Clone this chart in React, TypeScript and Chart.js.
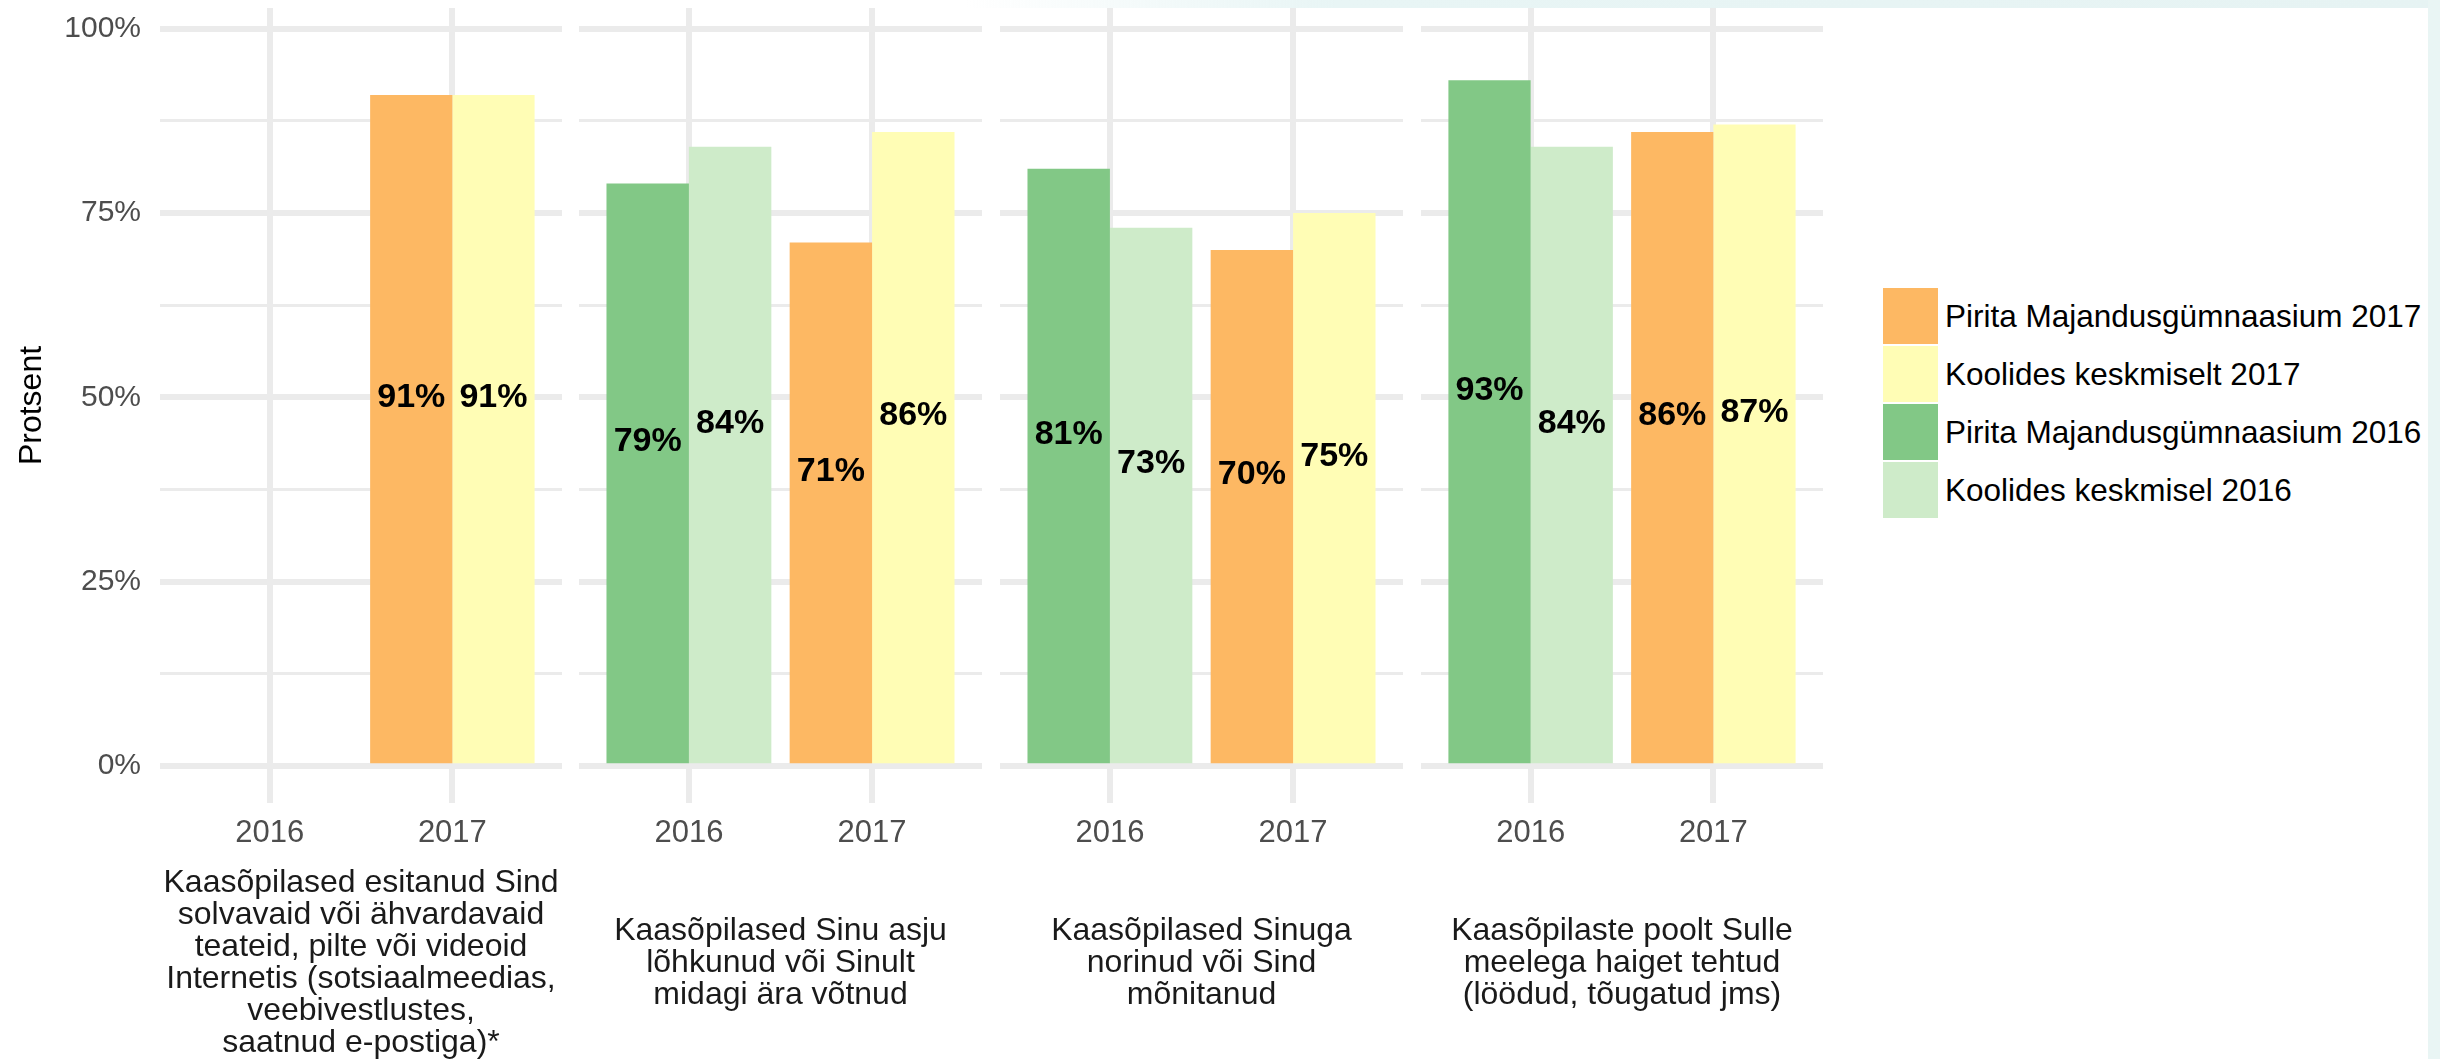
import React, { useEffect, useRef } from 'react';
import { Chart, registerables } from 'chart.js';

Chart.register(...registerables);

// ---------- data ----------
const years = [2016, 2017];
const facetLabels: string[][] = [
  ['Kaasõpilased esitanud Sind', 'solvavaid või ähvardavaid', 'teateid, pilte või videoid', 'Internetis (sotsiaalmeedias,', 'veebivestlustes,', 'saatnud e-postiga)*'],
  ['Kaasõpilased Sinu asju', 'lõhkunud või Sinult', 'midagi ära võtnud'],
  ['Kaasõpilased Sinuga', 'norinud või Sind', 'mõnitanud'],
  ['Kaasõpilaste poolt Sulle', 'meelega haiget tehtud', '(löödud, tõugatud jms)'],
];
const pirita2016: (number | null)[] = [null, 79, 81, 93];
const avg2016: (number | null)[] = [null, 84, 73, 84];
const pirita2017: (number | null)[] = [91, 71, 70, 86];
const avg2017: (number | null)[] = [91, 86, 75, 87];
const yMajorTicks = [0, 25, 50, 75, 100];
const yMinorTicks = [12.5, 37.5, 62.5, 87.5];
const legendLabels = [
  'Pirita Majandusgümnaasium 2017',
  'Koolides keskmiselt 2017',
  'Pirita Majandusgümnaasium 2016',
  'Koolides keskmisel 2016',
];

// ---------- styles ----------
const FONT = '"Liberation Sans", Arial, Helvetica, sans-serif';
const C_ORANGE = '#FDB863';
const C_YELLOW = '#FFFDB5';
const C_GREEN = '#82C886';
const C_LGREEN = '#CEEBC9';
const legendColors = [C_ORANGE, C_YELLOW, C_GREEN, C_LGREEN];
const GRID = '#EBEBEB';
const H = 1059;
const PANEL_TOP = 8;
const PANEL_BOTTOM = 803;
const panelLeft = [160, 579, 1000, 1421];
const panelRight = [562, 982, 1403, 1823];
const FACET_CENTER = 963;
const FACET_LH = 32;
const FACET_FS = 32;

Chart.defaults.font.family = FONT;

const valueLabels = {
  id: 'valueLabels',
  afterDatasetsDraw(chart: any) {
    const ctx = chart.ctx;
    const ys = chart.scales.y;
    ctx.save();
    ctx.font = `bold 34px ${FONT}`;
    ctx.fillStyle = '#000';
    ctx.textAlign = 'center';
    ctx.textBaseline = 'middle';
    chart.data.datasets.forEach((ds: any, di: number) => {
      const meta = chart.getDatasetMeta(di);
      meta.data.forEach((bar: any, i: number) => {
        const v = ds.data[i];
        if (v == null) return;
        ctx.fillText(`${v}%`, bar.x, ys.getPixelForValue(v / 2) - 33);
      });
    });
    ctx.restore();
  },
};

function Panel({ index }: { index: number }) {
  const ref = useRef<HTMLCanvasElement>(null);
  const yAxisWidth = index === 0 ? panelLeft[0] : 0;
  const canvasLeft = panelLeft[index] - yAxisWidth;
  const width = panelRight[index] - canvasLeft;
  const lines = facetLabels[index];
  const lastCenter = FACET_CENTER + ((lines.length - 1) / 2) * FACET_LH;
  const titlePadBottom = Math.max(0, H - FACET_LH / 2 - lastCenter);

  useEffect(() => {
    const chart = new Chart(ref.current as HTMLCanvasElement, {
      type: 'bar',
      data: {
        labels: years as any,
        datasets: [
          {
            label: 'Pirita Majandusgümnaasium',
            data: [pirita2016[index], pirita2017[index]],
            backgroundColor: [C_GREEN, C_ORANGE],
            categoryPercentage: 0.9,
            barPercentage: 1,
          },
          {
            label: 'Koolides keskmiselt',
            data: [avg2016[index], avg2017[index]],
            backgroundColor: [C_LGREEN, C_YELLOW],
            categoryPercentage: 0.9,
            barPercentage: 1,
          },
        ] as any,
      },
      options: {
        responsive: false,
        animation: false,
        devicePixelRatio: 1,
        layout: { padding: { top: PANEL_TOP, left: 0, right: 0, bottom: 0 } },
        plugins: { legend: { display: false }, tooltip: { enabled: false } },
        scales: {
          x: {
            type: 'linear',
            min: 2015.4,
            max: 2017.6,
            offset: false,
            afterBuildTicks: (s: any) => {
              s.ticks = years.map((v) => ({ value: v }));
            },
            afterFit: (s: any) => {
              s.height = H - PANEL_BOTTOM;
              s.paddingLeft = 0;
              s.paddingRight = 0;
              s.paddingTop = 0;
              s.paddingBottom = 0;
            },
            grid: { color: GRID, lineWidth: 6, drawTicks: false, offset: false },
            border: { display: false },
            ticks: {
              padding: 12,
              color: '#4D4D4D',
              font: { size: 31 },
              maxRotation: 0,
              autoSkip: false,
              callback: (v: any) => String(v),
            },
            title: {
              display: true,
              text: lines,
              color: '#1A1A1A',
              font: { size: FACET_FS, lineHeight: FACET_LH / FACET_FS },
              padding: { top: 0, bottom: titlePadBottom },
            },
          } as any,
          y: {
            min: -5,
            max: 102.8,
            afterBuildTicks: (s: any) => {
              s.ticks = [...yMajorTicks, ...yMinorTicks].sort((a, b) => a - b).map((v) => ({ value: v }));
            },
            afterFit: (s: any) => {
              s.width = yAxisWidth;
              s.paddingLeft = 0;
              s.paddingRight = 0;
              s.paddingTop = 0;
              s.paddingBottom = 0;
            },
            grid: {
              color: GRID,
              lineWidth: (c: any) => (c.tick && yMajorTicks.includes(c.tick.value) ? 6 : 3),
              drawTicks: false,
            },
            border: { display: false },
            ticks: {
              display: index === 0,
              padding: 19,
              color: '#4D4D4D',
              font: { size: 30 },
              autoSkip: false,
              callback: (v: any) => (yMajorTicks.includes(v) ? `${v}%` : ''),
            },
            title: {
              display: index === 0,
              text: 'Protsent',
              color: '#000',
              font: { size: 32 },
              padding: { top: 13, bottom: 0 },
            },
          } as any,
        },
      },
      plugins: [valueLabels as any],
    });
    return () => chart.destroy();
  }, [index]);

  return (
    <canvas
      ref={ref}
      width={width}
      height={H}
      style={{ position: 'absolute', left: canvasLeft, top: 0, width, height: H }}
    />
  );
}

export default function App() {
  return (
    <div
      style={{
        position: 'absolute',
        left: 0,
        top: 0,
        width: 2440,
        height: H,
        overflow: 'hidden',
        background: '#fff',
        fontFamily: FONT,
      }}
    >
      {[0, 1, 2, 3].map((i) => (
        <Panel key={i} index={i} />
      ))}
      <div
        style={{
          position: 'absolute',
          left: 965,
          top: 0,
          width: 1475,
          height: 8,
          background: 'linear-gradient(to right, rgba(232,245,245,0), #E8F5F5 25%, #E6F3F3)',
        }}
      />
      <div
        style={{ position: 'absolute', left: 2428, top: 0, width: 12, height: H, background: '#E9F5F4' }}
      />
      {legendLabels.map((lab, i) => (
        <React.Fragment key={lab}>
          <div
            style={{
              position: 'absolute',
              left: 1883,
              top: 288 + i * 58,
              width: 55,
              height: 56,
              background: legendColors[i],
            }}
          />
          <div
            style={{
              position: 'absolute',
              left: 1945,
              top: 288 + i * 58,
              height: 56,
              lineHeight: '56px',
              fontSize: 31.5,
              color: '#000',
              whiteSpace: 'nowrap',
            }}
          >
            {lab}
          </div>
        </React.Fragment>
      ))}
    </div>
  );
}
